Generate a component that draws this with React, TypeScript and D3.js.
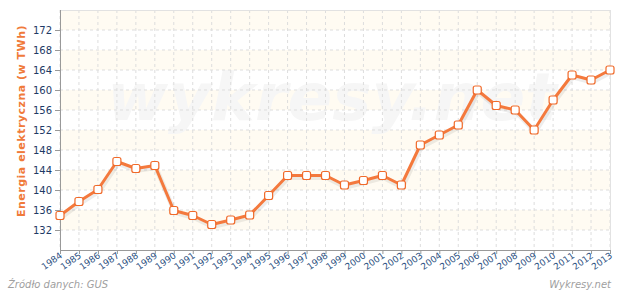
import React from "react";
import * as d3 from "d3";

const years = [1984,1985,1986,1987,1988,1989,1990,1991,1992,1993,1994,1995,1996,1997,1998,1999,2000,2001,2002,2003,2004,2005,2006,2007,2008,2009,2010,2011,2012,2013];
const values = [134.9,137.7,140.1,145.7,144.3,144.9,135.9,134.9,133.1,134.0,135.0,138.9,142.9,142.9,142.9,141.0,141.9,142.9,141.0,149.0,151.0,153.0,160.0,156.9,156.0,152.0,158.0,163.0,162.0,164.0];
const yTicks = [132,136,140,144,148,152,156,160,164,168,172];
const bands = [[172,176],[164,168],[156,160],[148,152],[140,144],[132,136]];
const yTitle = "Energia elektryczna (w TWh)";
const source = "Źródło danych:  GUS";
const brand = "Wykresy.net";
const watermark = "wykresy.net";

export default function App() {
  const W = 620, H = 292;
  const left = 60, right = 610, top = 10, bottom = 250;
  const x = d3.scaleLinear().domain([1984, 2013]).range([left, right]);
  const y = d3.scaleLinear().domain([128, 176]).range([bottom, top]);
  const line = d3.line<number>().x((_, i) => x(years[i])).y((v) => y(v));
  const path = line(values) || "";
  const font = "'DejaVu Sans', Verdana, sans-serif";
  return (
    <svg width={W} height={H} style={{ position: "absolute", left: 0, top: 0 }} fontFamily={font}>
      <rect x={0} y={0} width={W} height={H} fill="#fff" />
      {bands.map(([a, b], i) => (
        <rect key={i} x={left} y={y(b)} width={right - left} height={y(a) - y(b)} fill="#fffbf2" />
      ))}
      <text x={332} y={120} textAnchor="middle" fontSize={66} fontWeight="bold" fontStyle="italic" fill="#f6f6f6">{watermark}</text>
      {years.map((yr) => (
        <line key={yr} x1={x(yr)} x2={x(yr)} y1={top} y2={bottom} stroke="#dddddd" strokeDasharray="3,3" />
      ))}
      {yTicks.map((t) => (
        <line key={t} x1={left} x2={right} y1={y(t)} y2={y(t)} stroke="#dddddd" strokeDasharray="3,3" />
      ))}
      <line x1={left} x2={right} y1={top + 0.5} y2={top + 0.5} stroke="#e2e2e2" />
      <line x1={right + 0.5} x2={right + 0.5} y1={top} y2={bottom} stroke="#e2e2e2" />
      <line x1={left + 0.5} x2={left + 0.5} y1={top} y2={bottom} stroke="#999" />
      <line x1={left} x2={right + 1} y1={bottom + 0.5} y2={bottom + 0.5} stroke="#999" />
      {yTicks.map((t) => (
        <g key={t}>
          <line x1={left - 5} x2={left} y1={y(t) + 0.5} y2={y(t) + 0.5} stroke="#999" />
          <text x={left - 8} y={y(t) + 3.5} textAnchor="end" fontSize={10} fill="#1e3a66">{t}</text>
        </g>
      ))}
      {years.map((yr) => (
        <g key={yr}>
          <line x1={x(yr) + 0.5} x2={x(yr) + 0.5} y1={bottom} y2={bottom + 4} stroke="#999" />
          <text transform={`translate(${x(yr) + 3},${bottom + 7}) rotate(-35)`} textAnchor="end" fontSize={9} fill="#2a4f80">{yr}</text>
        </g>
      ))}
      <text transform={`translate(25,121) rotate(-90)`} textAnchor="middle" fontSize={11} fontWeight="bold" fill="#f07a3a" letterSpacing={0.5}>{yTitle}</text>
      <path d={path} fill="none" stroke="#000" strokeOpacity={0.07} strokeWidth={5} transform="translate(1,2)" />
      <path d={path} fill="none" stroke="#f4793d" strokeWidth={3} strokeLinejoin="round" />
      {values.map((v, i) => (
        <rect key={i} x={x(years[i]) - 4} y={y(v) - 4} width={8} height={8} rx={2} fill="#fff" stroke="#f06a2a" strokeWidth={1.2} />
      ))}
      <text x={8} y={288} fontSize={10} fontStyle="italic" fill="#a0a0a0">{source}</text>
      <text x={611} y={288} textAnchor="end" fontSize={10} fontStyle="italic" fill="#a0a0a0">{brand}</text>
    </svg>
  );
}
